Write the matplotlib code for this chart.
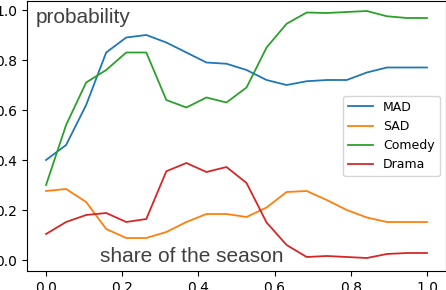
import matplotlib
matplotlib.use("Agg")
import matplotlib.pyplot as plt
import numpy as np

# share of the season, 20 evenly spaced points
share = np.linspace(0, 1, 20)

mad = [0.40, 0.46, 0.62, 0.83, 0.89, 0.90, 0.87, 0.83, 0.79, 0.785, 0.76,
       0.72, 0.70, 0.715, 0.72, 0.72, 0.75, 0.77, 0.77, 0.77]
sad = [0.276, 0.284, 0.232, 0.124, 0.088, 0.088, 0.112, 0.152, 0.184, 0.184,
       0.172, 0.21, 0.272, 0.276, 0.24, 0.20, 0.17, 0.152, 0.152, 0.152]
comedy = [0.30, 0.54, 0.71, 0.76, 0.83, 0.83, 0.64, 0.61, 0.65, 0.63, 0.69,
          0.85, 0.945, 0.99, 0.988, 0.992, 0.996, 0.975, 0.968, 0.968]
drama = [0.104, 0.152, 0.18, 0.188, 0.152, 0.164, 0.355, 0.388, 0.352, 0.372,
         0.308, 0.15, 0.06, 0.012, 0.016, 0.012, 0.008, 0.024, 0.028, 0.028]

fig = plt.figure(figsize=(4.46, 2.90), dpi=100)
ax = fig.add_axes([27 / 446, 19 / 290, 419 / 446, 270 / 290])

ax.plot(share, mad, color="tab:blue", lw=1.3, label="MAD")
ax.plot(share, sad, color="tab:orange", lw=1.3, label="SAD")
ax.plot(share, comedy, color="tab:green", lw=1.3, label="Comedy")
ax.plot(share, drama, color="tab:red", lw=1.3, label="Drama")

ax.set_xlim(-0.05, 1.05)
ax.set_ylim(-0.044, 1.036)
ax.set_xticks([0.0, 0.2, 0.4, 0.6, 0.8, 1.0])
ax.set_yticks([0.0, 0.2, 0.4, 0.6, 0.8, 1.0])

ax.text(0.0215, 0.975, "probability", transform=ax.transAxes, va="top",
        ha="left", fontsize=15, family="Liberation Sans", color="0.25")
ax.text(0.174, 0.033, "share of the season", transform=ax.transAxes,
        va="baseline", ha="left", fontsize=15, family="Liberation Sans",
        color="0.25")

ax.legend(loc="center right", fontsize=9)

fig.savefig("out.png", dpi=100)
